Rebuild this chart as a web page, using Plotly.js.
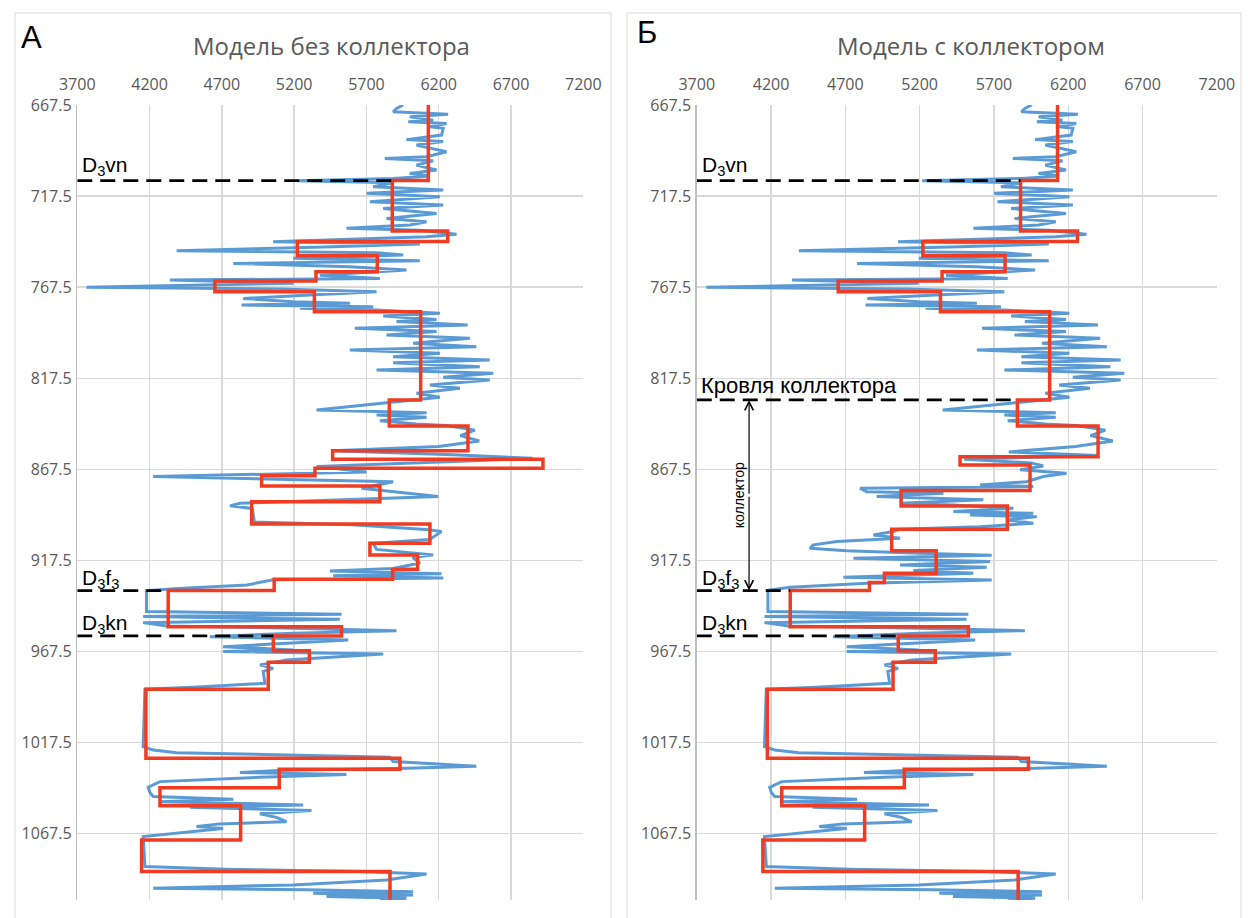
<!DOCTYPE html>
<html>
<head>
<meta charset="utf-8">
<script src="https://cdn.plot.ly/plotly-3.0.1.min.js"></script>
<style>
  html, body { margin: 0; padding: 0; background: #ffffff; }
  #chart { width: 1248px; height: 918px; }
</style>
</head>
<body>
<div id="chart"></div>
<script>
// ---- Measured log (velocity, m/s) vs depth, shared upper interval ----
const logDepthTop = [667.5, 669.4, 671.2, 672.0, 672.5, 673.9, 675.8, 676.7, 677.6, 679.4,
  680.3, 684.0, 686.5, 687.5, 689.5, 693.2, 695.9, 696.8, 698.1, 700.5,
  703.2, 705.1, 706.5, 707.8, 709.1, 710.2, 712.4, 714.2, 716.0, 717.9,
  720.6, 722.4, 724.3, 727.0, 729.8, 731.6, 733.4, 735.2, 736.2, 738.4,
  739.8, 742.6, 743.8, 745.3, 747.5, 748.6, 749.9, 751.7, 753.0, 754.5,
  756.3, 758.1, 760.9, 762.7, 763.6, 765.4, 767.6, 768.5, 770.0, 771.8,
  773.7, 775.5, 776.4, 777.3, 778.2, 779.1, 780.0, 781.9, 783.3, 785.2,
  786.4, 788.3, 790.1, 791.9, 793.8, 795.6, 798.3, 800.2, 802.0, 803.8,
  805.7, 807.5, 809.0, 811.2, 813.0, 814.8, 817.0, 818.5, 821.2, 823.0,
  825.8, 828.0, 830.4, 834.9, 836.4, 837.7, 839.0, 840.8, 842.6];
const logVelTop = [5954, 5908, 5885, 6150, 6265, 6000, 6162, 5989, 6254, 6139,
  6231, 6220, 5977, 6231, 6046, 6254, 6116, 5827, 6162, 6046,
  6185, 6000, 6139, 5885, 5217, 5885, 5747, 6231, 5701, 6208,
  5724, 6231, 5816, 6185, 5839, 6116, 6000, 5562, 6069, 6323,
  6116, 5055, 6069, 5470, 4387, 5770, 5954, 5194, 6069, 4779,
  5585, 5977, 5378, 5793, 4341, 5194, 3764, 5101, 5770, 5309,
  4848, 5194, 5585, 4836, 5747, 5240, 5770, 6208, 5816, 6185,
  5908, 6400, 5620, 6185, 5839, 6415, 6023, 6460, 5585, 6208,
  5885, 6553, 5885, 6484, 5770, 6577, 6231, 6553, 6139, 6346,
  6046, 6208, 5908, 5355, 6116, 5770, 6116, 5793, 6046];

// ---- Middle interval, model without reservoir ----
const logDepthMidA = [843.5, 846, 849, 852, 855, 857.3, 859.5, 861.5, 863, 866,
  869, 871.5, 874.3, 877.9, 882.5, 886.2, 887.6, 889, 896.5, 898,
  900.5, 901.7, 906, 908.1, 911.5, 914.5, 916, 919, 922, 923.3,
  924.9, 926, 927.2, 928.2, 931, 933];
const logVelMidA = [6250, 6450, 6350, 6480, 6200, 5470, 6300, 6850, 6400, 5355,
  5700, 4225, 5885, 5666, 6196, 4825, 4756, 4910, 4925, 5600,
  6110, 6219, 6139, 5747, 5770, 6162, 6020, 6070, 5885, 5447,
  6219, 5470, 6231, 5055, 4875, 4400];

// ---- Middle interval, model with reservoir ----
const logDepthMidB = [843.5, 846, 849, 852, 855, 858, 860, 862, 864, 865.7,
  867.8, 869.7, 871.5, 874.3, 876.1, 877.0, 877.9, 879.8, 880.7, 882.5,
  884.3, 886.2, 887.1, 888.9, 890.7, 891.7, 892.6, 893.5, 895.3, 897.1,
  899.0, 900.4, 901.7, 903.6, 905.4, 907.2, 909.0, 910.9, 912.2, 913.6,
  914.7, 916.4, 918.2, 920.0, 921.3, 923.1, 924.6, 926.8, 928.3, 930.1,
  932.3, 933.8];
const logVelMidB = [6250, 6450, 6350, 6500, 6250, 5800, 6400, 5500, 5950, 6032,
  5876, 6189, 6032, 5920, 5606, 5965, 4799, 4844, 5360, 4911,
  5629, 5068, 5427, 5831, 5427, 5965, 5539, 5988, 5786, 5965,
  5606, 5068, 5023, 4889, 5068, 4642, 4485, 4462, 4709, 5203,
  5685, 4754, 5674, 5068, 5651, 5158, 5561, 4687, 5685, 4844,
  4328, 4193];

// ---- Shared lower interval ----
const logDepthLow = [934.1, 945.6, 947.1, 948.4, 949.9, 951.7, 953.5, 954.8, 956.1, 957.5,
  959.4, 961.2, 963.0, 964.9, 966.7, 967.6, 968.9, 972.2, 974.9, 976.8,
  978.6, 985.0, 987.2, 988.3, 1019.8, 1021.6, 1023.1, 1024.3, 1025.6, 1028.0,
  1030.5, 1031.7, 1032.9, 1034.0, 1035.1, 1036.6, 1039.0, 1042.1, 1045.0, 1047.2,
  1048.7, 1050.0, 1051.8, 1053.1, 1054.9, 1056.7, 1058.6, 1061.0, 1062.2, 1063.7,
  1064.8, 1069.2, 1085.6, 1087.1, 1088.4, 1089.7, 1093.0, 1095.7, 1097.5, 1098.4,
  1099.4, 1100.3, 1101.2, 1102.1, 1103.0, 1103.9];
const logVelLow = [4179, 4179, 5528, 4156, 5516, 4156, 4318, 5194, 5908, 5194,
  4617, 5574, 5194, 4709, 5194, 4709, 5816, 5147, 4963, 5055,
  4986, 4998, 4502, 4168, 4156, 4225, 4387, 5194, 5862, 5885,
  6460, 5977, 5101, 4825, 5562, 4963, 4272, 4191, 4202, 4225,
  4779, 4272, 5263, 4479, 5320, 4963, 5078, 5147, 4686, 4525,
  4709, 4156, 4168, 4733, 5655, 6116, 5839, 5194, 4225, 5286,
  6023, 5332, 6023, 5424, 5977, 5793];

// ---- Layered velocity models: layer boundaries and layer velocities ----
const modelBoundsA = [667.5, 709, 736.7, 742.5, 750.2, 759, 764.1, 770, 781, 829.4,
  843.7, 857.3, 862, 867, 871, 876.7, 885.3, 897.5, 908.1, 914.5,
  922.4, 927.9, 934.1, 953.9, 959, 967.1, 973.4, 988.3, 1026.1, 1032.2,
  1042.3, 1052.3, 1071, 1088.4, 1104];
const modelVelA = [6128, 5879, 6262, 5222, 5775, 5351, 4652, 5340, 6075, 5858,
  6402, 5466, 6921, 5344, 4975, 5793, 4906, 6139, 5724, 6054,
  5881, 5062, 4329, 5528, 5056, 5305, 5021, 4175, 5932, 5097,
  4272, 4830, 4145, 5863];

const modelBoundsB = [667.5, 709, 736.7, 742.5, 750.2, 759, 764.1, 770, 781, 829.4,
  843.7, 860.6, 865.1, 879.2, 887.6, 900.4, 912.3, 924.6, 929.7, 934.1,
  953.9, 959, 967.1, 973.4, 988.3, 1026.1, 1032.2, 1042.3, 1052.3, 1071,
  1088.4, 1104];
const modelVelB = [6128, 5879, 6262, 5222, 5775, 5351, 4652, 5340, 6075, 5858,
  6401, 5472, 5943, 5075, 5790, 5012, 5311, 4963, 4862, 4329,
  5528, 5056, 5305, 5021, 4175, 5932, 5097, 4272, 4830, 4145,
  5863];

// ---- Stratigraphic horizons ----
const horizonLabels = ['D<sub>3</sub>vn', 'D<sub>3</sub>f<sub>3</sub>', 'D<sub>3</sub>kn'];
const horizonDepths = [709, 934.1, 959];
const reservoirTopDepth = 829.4;
const reservoirTopLabel = 'Кровля коллектора';
const reservoirLabel = 'коллектор';
const arrowVel = 4052;

const panelTitles = ['Модель без коллектора', 'Модель с коллектором'];
const panelLetters = ['А', 'Б'];

// ---- helpers ----
function stepLine(bounds, vals) {
  const x = [], y = [];
  vals.forEach((v, i) => { x.push(v, v); y.push(bounds[i], bounds[i + 1]); });
  return { x, y };
}
function edgeVel(bounds, vals, depth) {
  let i = 0, best = Infinity;
  bounds.forEach((b, k) => { const d = Math.abs(b - depth); if (d < best) { best = d; i = k; } });
  return Math.min(vals[Math.max(i - 1, 0)], vals[Math.min(i, vals.length - 1)]);
}

const BLUE = '#5B9BD5';
const RED = '#F03C22';
const GRID = '#D9D9D9';
const TXT = '#595959';

const stepA = stepLine(modelBoundsA, modelVelA);
const stepB = stepLine(modelBoundsB, modelVelB);

const traces = [
  { x: logVelTop.concat(logVelMidA, logVelLow), y: logDepthTop.concat(logDepthMidA, logDepthLow),
    xaxis: 'x', yaxis: 'y', mode: 'lines', line: { color: BLUE, width: 3 }, hoverinfo: 'skip' },
  { x: stepA.x, y: stepA.y, xaxis: 'x', yaxis: 'y', mode: 'lines',
    line: { color: RED, width: 3.5 }, hoverinfo: 'skip' },
  { x: logVelTop.concat(logVelMidB, logVelLow), y: logDepthTop.concat(logDepthMidB, logDepthLow),
    xaxis: 'x2', yaxis: 'y2', mode: 'lines', line: { color: BLUE, width: 3 }, hoverinfo: 'skip' },
  { x: stepB.x, y: stepB.y, xaxis: 'x2', yaxis: 'y2', mode: 'lines',
    line: { color: RED, width: 3.5 }, hoverinfo: 'skip' }
];

const tickFont = { family: 'Open Sans, sans-serif', size: 16, color: TXT };
function xAxis(domain, anchor) {
  return { domain, anchor, side: 'top', range: [3700, 7200], tick0: 3700, dtick: 500,
    showgrid: true, gridcolor: GRID, gridwidth: 1.4, zeroline: false, showline: false,
    ticks: '', tickfont: tickFont, ticklabelstandoff: 11, fixedrange: true };
}
function yAxis(anchor) {
  return { domain: [0.0196, 0.8856], anchor, range: [1104, 667.5], tick0: 667.5, dtick: 50,
    tickformat: '.1f', showgrid: true, gridcolor: GRID, gridwidth: 1.4, zeroline: false,
    showline: true, linecolor: '#BFBFBF', linewidth: 1.5, ticks: '', tickfont: tickFont,
    ticklabelstandoff: 1, fixedrange: true };
}

const shapes = [];
const annotations = [];

// panel frames
[[15 / 1248, 611 / 1248], [627 / 1248, 1241 / 1248]].forEach(([a, b]) => {
  shapes.push({ type: 'rect', xref: 'paper', yref: 'paper', x0: a, x1: b, y0: -0.05, y1: 1 - 13 / 918,
    line: { color: '#D9D9D9', width: 1 }, fillcolor: 'rgba(0,0,0,0)', layer: 'below' });
});

const dashStyle = { color: '#000000', width: 2.8, dash: '15px,8px' };
const labelFont = { family: 'Liberation Sans, Arial, sans-serif', size: 21, color: '#000000' };

[['x', 'y', modelBoundsA, modelVelA], ['x2', 'y2', modelBoundsB, modelVelB]].forEach(([xr, yr, bnds, vals]) => {
  horizonDepths.forEach((d, k) => {
    shapes.push({ type: 'line', xref: xr, yref: yr, x0: 3700, x1: edgeVel(bnds, vals, d), y0: d, y1: d,
      line: dashStyle });
    annotations.push({ xref: xr, yref: yr, x: 3700, y: d, xanchor: 'left', yanchor: 'bottom',
      xshift: 3, yshift: k === 0 ? 0 : -3, text: horizonLabels[k], showarrow: false, font: labelFont });
  });
});

// reservoir top and thickness arrow (second panel)
shapes.push({ type: 'line', xref: 'x2', yref: 'y2', x0: 3700,
  x1: edgeVel(modelBoundsB, modelVelB, reservoirTopDepth), y0: reservoirTopDepth, y1: reservoirTopDepth,
  line: dashStyle });
annotations.push({ xref: 'x2', yref: 'y2', x: 3700, y: reservoirTopDepth, xanchor: 'left', yanchor: 'bottom',
  xshift: 2, text: reservoirTopLabel, showarrow: false,
  font: { family: 'Liberation Sans, Arial, sans-serif', size: 22, color: '#000000' } });
const midDepth = (reservoirTopDepth + horizonDepths[1]) / 2;
[reservoirTopDepth, horizonDepths[1]].forEach(d => {
  annotations.push({ xref: 'x2', yref: 'y2', axref: 'x2', ayref: 'y2', x: arrowVel, y: d,
    ax: arrowVel, ay: midDepth, text: '', showarrow: true, arrowhead: 5, arrowsize: 1.4,
    arrowwidth: 1.2, arrowcolor: '#000000', standoff: 0, startstandoff: 0 });
});
annotations.push({ xref: 'x2', yref: 'y2', x: arrowVel, y: midDepth, xanchor: 'center', yanchor: 'middle',
  xshift: -10, textangle: -90, text: reservoirLabel, showarrow: false,
  font: { family: 'Liberation Sans, Arial, sans-serif', size: 14, color: '#000000' } });

// panel titles and letters
[331 / 1248, 971 / 1248].forEach((tx, i) => {
  annotations.push({ xref: 'paper', yref: 'paper', x: tx, y: 1 - 45 / 918, xanchor: 'center', yanchor: 'middle',
    text: panelTitles[i], showarrow: false, font: { family: 'Open Sans, sans-serif', size: 24, color: TXT } });
});
annotations.push({ xref: 'paper', yref: 'paper', x: 19 / 1248, y: 1 - 37 / 918, xanchor: 'left', yanchor: 'middle',
  text: panelLetters[0], showarrow: false, font: { family: 'Liberation Sans, Arial, sans-serif', size: 31, color: '#000000' } });
annotations.push({ xref: 'paper', yref: 'paper', x: 635 / 1248, y: 1 - 33 / 918, xanchor: 'left', yanchor: 'middle',
  text: panelLetters[1], showarrow: false, font: { family: 'Liberation Sans, Arial, sans-serif', size: 31, color: '#000000' } });

const layout = {
  width: 1248, height: 918,
  margin: { l: 0, r: 0, t: 0, b: 0 },
  paper_bgcolor: '#ffffff', plot_bgcolor: '#ffffff',
  showlegend: false,
  xaxis: xAxis([0.0619, 0.4674], 'y'),
  yaxis: yAxis('x'),
  xaxis2: xAxis([0.5583, 0.975], 'y2'),
  yaxis2: yAxis('x2'),
  shapes, annotations
};

Plotly.newPlot('chart', traces, layout, { displayModeBar: false, staticPlot: true });
</script>
</body>
</html>
